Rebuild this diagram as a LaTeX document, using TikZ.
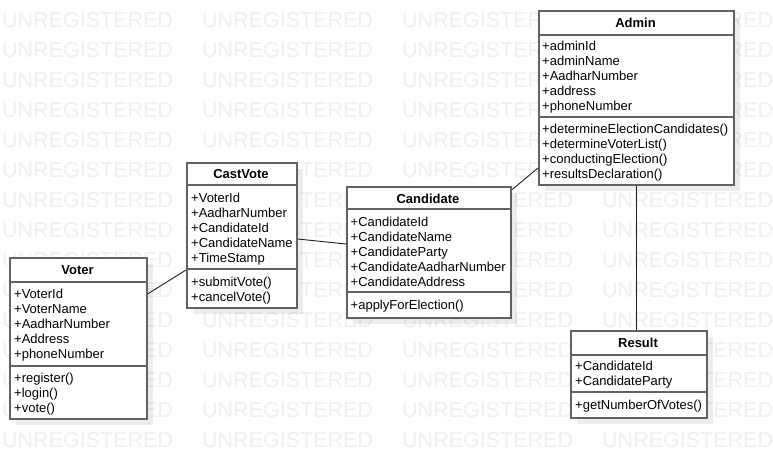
\documentclass[tikz,border=0pt]{standalone}
\usepackage{fontspec}
\setmainfont{Liberation Sans}
\definecolor{wm}{HTML}{F0F0F0}
\definecolor{bd}{HTML}{626262}
\definecolor{ln}{HTML}{202020}
\begin{document}
\begin{tikzpicture}[x=1pt,y=-1pt,
  wmtext/.style={inner sep=0pt, anchor=west, text=wm, font=\fontsize{21.5}{24}\selectfont},
  classbox/.style={draw=bd, line width=1.6pt, fill=white, inner sep=0pt, anchor=north west},
  sepline/.style={draw=bd, line width=1.6pt},
  shade/.style={fill=black, fill opacity=0.07},
  ctitle/.style={inner sep=0pt, font=\fontsize{13}{15}\selectfont\bfseries},
  txt/.style={inner sep=0pt, anchor=base west, font=\fontsize{13}{15}\selectfont},
  conn/.style={draw=ln, line width=0.9pt}
]
\useasboundingbox (0,0) rectangle (773,458);
\clip (0,0) rectangle (773,458);
\fill[white] (0,0) rectangle (773,458);
% watermark
\foreach \r in {0,...,14}{
  \foreach \c in {0,...,3}{
    \node[wmtext] (wm-\r-\c) at (2+200*\c, 20.5+30*\r) {UNREGISTERED};
  }
}
% shadows
\fill[shade] (545,17) rectangle (740,191);
\fill[shade] (16,264) rectangle (153,425);
\fill[shade] (193,169) rectangle (303,314);
\fill[shade] (353,193) rectangle (517,324);
\fill[shade] (577,337) rectangle (713,424);

% Admin
\node[classbox, minimum width=195, minimum height=174] (admin) at (538,10) {};
\draw[sepline] (admin.west |- 0,35) -- (admin.east |- 0,35);
\draw[sepline] (admin.west |- 0,117) -- (admin.east |- 0,117);
\node[ctitle] (admin-t) at (635.5,22.5) {Admin};
\foreach \t [count=\i from 0] in {+adminId,+adminName,+AadharNumber,+address,+phoneNumber}
  \node[txt] (admin-a\i) at (542,50+15*\i) {\t};
\foreach \t [count=\i from 0] in {+determineElectionCandidates(),+determineVoterList(),+conductingElection(),+resultsDeclaration()}
  \node[txt] (admin-m\i) at (542,133+15*\i) {\t};

% Voter
\node[classbox, minimum width=137, minimum height=161] (voter) at (9,257) {};
\draw[sepline] (voter.west |- 0,282) -- (voter.east |- 0,282);
\draw[sepline] (voter.west |- 0,366) -- (voter.east |- 0,366);
\node[ctitle] (voter-t) at (77.5,270) {Voter};
\foreach \t [count=\i from 0] in {+VoterId,+VoterName,+AadharNumber,+Address,+phoneNumber}
  \node[txt] (voter-a\i) at (14,298+15*\i) {\t};
\foreach \t [count=\i from 0] in {+register(),+login(),+vote()}
  \node[txt] (voter-m\i) at (14,382+15*\i) {\t};

% CastVote
\node[classbox, minimum width=110, minimum height=145] (castvote) at (186,162) {};
\draw[sepline] (castvote.west |- 0,185) -- (castvote.east |- 0,185);
\draw[sepline] (castvote.west |- 0,269) -- (castvote.east |- 0,269);
\node[ctitle] (castvote-t) at (241,174) {CastVote};
\foreach \t [count=\i from 0] in {+VoterId,+AadharNumber,+CandidateId,+CandidateName,+TimeStamp}
  \node[txt] (castvote-a\i) at (191,202+15*\i) {\t};
\foreach \t [count=\i from 0] in {+submitVote(),+cancelVote()}
  \node[txt] (castvote-m\i) at (191,286+15*\i) {\t};

% Candidate
\node[classbox, minimum width=164, minimum height=131] (candidate) at (346,186) {};
\draw[sepline] (candidate.west |- 0,209) -- (candidate.east |- 0,209);
\draw[sepline] (candidate.west |- 0,292) -- (candidate.east |- 0,292);
\node[ctitle] (candidate-t) at (428,198.5) {Candidate};
\foreach \t [count=\i from 0] in {+CandidateId,+CandidateName,+CandidateParty,+CandidateAadharNumber,+CandidateAddress}
  \node[txt] (candidate-a\i) at (350.5,226+15*\i) {\t};
\node[txt] (candidate-m0) at (350.5,309) {+applyForElection()};

% Result
\node[classbox, minimum width=136, minimum height=87] (result) at (570,330) {};
\draw[sepline] (result.west |- 0,355) -- (result.east |- 0,355);
\draw[sepline] (result.west |- 0,392) -- (result.east |- 0,392);
\node[ctitle] (result-t) at (638,343) {Result};
\foreach \t [count=\i from 0] in {+CandidateId,+CandidateParty}
  \node[txt] (result-a\i) at (575,370+15*\i) {\t};
\node[txt] (result-m0) at (575,409) {+getNumberOfVotes()};

% connectors
\draw[conn] (voter.east |- 0,294) -- (castvote.west |- 0,270);
\draw[conn] (castvote.east |- 0,239) -- (candidate.west |- 0,244);
\draw[conn] (candidate.east |- 0,190) -- (admin.west |- 0,168);
\draw[conn] (admin.south -| 636,0) -- (result.north -| 636,0);
\end{tikzpicture}
\end{document}
